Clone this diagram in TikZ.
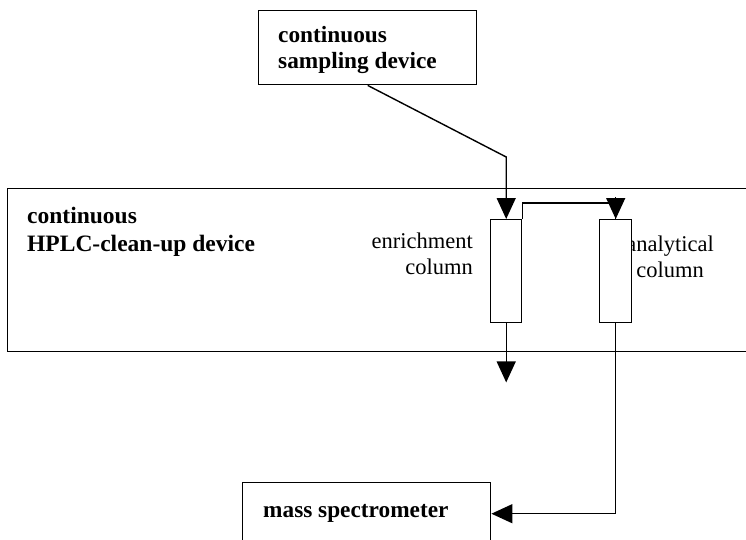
\documentclass[tikz,border=0pt]{standalone}
\usepackage{fontspec}
\setmainfont{Liberation Serif}
\usetikzlibrary{arrows.meta,calc}
\begin{document}
\begin{tikzpicture}[x=1pt,y=-1pt,
  box/.style={draw,line width=1.4pt,anchor=north west,inner sep=0pt,fill=white},
  bold/.style={font=\fontsize{23.3}{26}\selectfont\bfseries,inner sep=0pt,align=left,anchor=base west},
  plain/.style={font=\fontsize{22.5}{26}\selectfont,inner sep=0pt,anchor=base},
  conn/.style={line width=1.4pt},
  bigarrow/.style={conn,-{Triangle[length=21pt,width=19pt]}}]
\useasboundingbox (0,0) rectangle (746,539);
\clip (0,0) rectangle (746,539);
\fill[white] (0,0) rectangle (746,539);
% boxes
\node[box,minimum width=218pt,minimum height=74pt] (samp) at (258,10) {};
\node[bold] (samptext) at (278,68) {continuous\\sampling device};
\node[box,minimum width=760pt,minimum height=163pt] (hplc) at (7,188) {};
\node[bold,font=\fontsize{23.5}{28}\selectfont\bfseries] (hplctext) at (27,251) {continuous\\HPLC-clean-up device};
\node[plain,align=right,anchor=base east] (enrtext) at (473,274) {enrichment\\column};
\node[plain,align=center] (anatext) at (670,277) {analytical\\column};
\node[box,minimum width=31pt,minimum height=103pt] (enr) at (490,219) {};
\node[box,minimum width=32pt,minimum height=103pt] (ana) at (599,219) {};
\node[box,minimum width=248pt,minimum height=62pt] (ms) at (242,482) {};
\node[bold] (mstext) at (263,517) {mass spectrometer};
% connectors
\draw[bigarrow] (samp.south) -- ($(enr.north)+(0,-62)$) -- (enr.north);
\draw[conn] (enr.north east) -- ++(0,-16) -| (ana.north);
\draw[bigarrow] ($(ana.north)+(0,-22)$) -- (ana.north);
\draw[bigarrow] (enr.south) -- ++(0,59);
\draw[bigarrow] (ana.south) |- (ms.east);
\end{tikzpicture}
\end{document}
